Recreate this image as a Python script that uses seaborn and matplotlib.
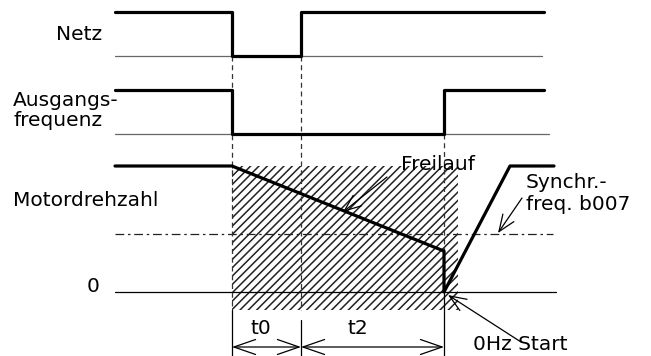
import matplotlib.pyplot as plt
import seaborn as sns
import numpy as np
import pandas as pd
from matplotlib.patches import Rectangle

# time axis (x, drawing units) of the events
t_start, t_fail, t_return, t_restart, t_sync, t_end = 115, 232, 301, 444, 510, 544

# Netz (mains) on/off
netz_t = [t_start, t_fail, t_fail, t_return, t_return, t_end]
netz_v = [1, 1, 0, 0, 1, 1]

# Ausgangsfrequenz (output frequency) on/off
ausg_t = [t_start, t_fail, t_fail, t_restart, t_restart, t_end]
ausg_v = [1, 1, 0, 0, 1, 1]

# Motordrehzahl (normalised speed): coast down, drop, ramp up again
motor_t = [t_start, t_fail, t_restart, t_restart, t_sync, 554]
motor_v = [1.0, 1.0, 0.325, 0.0, 1.0, 1.0]
sync_level = 0.46

# rows: baseline y and height of a "1" level
rows = {'netz': (56, 44), 'ausg': (134, 44), 'motor': (292, 126)}

sns.set_theme(style='white')
plt.rcParams['font.family'] = ['DejaVu Sans']
plt.rcParams['text.color'] = 'black'
plt.rcParams['hatch.linewidth'] = 1.1

fig = plt.figure(figsize=(6.51, 3.56), dpi=100)
ax = fig.add_axes([0, 0, 1, 1])
ax.set_xlim(0, 651)
ax.set_ylim(356, 0)
ax.axis('off')

def ypos(row, v):
    base, h = rows[row]
    return base - np.asarray(v, dtype=float) * h

# hatched coasting area
ax.add_patch(Rectangle((t_fail, 166), 458 - t_fail, 310 - 166, facecolor='white',
                       edgecolor='#222222', hatch='////', linewidth=0, zorder=1))

# thin baselines
ax.plot([115, 542], [56, 56], color='#666666', lw=0.9, zorder=2)
ax.plot([115, 549], [134, 134], color='#666666', lw=0.9, zorder=2)
ax.plot([115, 556], [292, 292], color='black', lw=0.9, zorder=2)
ax.plot([115, 553], [ypos('motor', sync_level)] * 2, color='#222222', lw=0.9,
        linestyle=(0, (7, 3, 2, 3)), zorder=2)

# signals
for row, tt, vv in [('netz', netz_t, netz_v), ('ausg', ausg_t, ausg_v), ('motor', motor_t, motor_v)]:
    df = pd.DataFrame({'t': tt, 'y': ypos(row, vv)})
    sns.lineplot(data=df, x='t', y='y', sort=False, estimator=None, color='black',
                 lw=2.3, ax=ax, zorder=4)

# dashed event markers
ax.plot([t_fail, t_fail], [56, 310], color='#333333', lw=0.9, ls=(0, (4, 3)), zorder=3)
ax.plot([t_return, t_return], [56, 310], color='#333333', lw=0.9, ls=(0, (4, 3)), zorder=3)
ax.plot([t_restart, t_restart], [134, 292], color='#333333', lw=0.9, ls=(0, (4, 3)), zorder=3)

# dimension extension lines
ax.plot([t_fail, t_fail], [310, 356], color='black', lw=0.9)
ax.plot([t_return, t_return], [320, 356], color='black', lw=0.9)
ax.plot([t_restart, t_restart], [292, 356], color='black', lw=0.9)

dim = dict(arrowstyle='<->,head_length=1.3,head_width=0.45', color='black', lw=0.9,
           shrinkA=0, shrinkB=0)
ax.annotate('', xy=(t_fail, 347), xytext=(t_return, 347), arrowprops=dim)
ax.annotate('', xy=(t_return, 347), xytext=(t_restart, 347), arrowprops=dim)

fs = 14.5
ax.text(261, 328, 't0', ha='center', va='center', fontsize=fs)
ax.text(358, 328, 't2', ha='center', va='center', fontsize=fs)

# labels
ax.text(102, 34, 'Netz', ha='right', va='center', fontsize=fs)
ax.text(13, 101, 'Ausgangs-', ha='left', va='center', fontsize=fs)
ax.text(13, 121, 'frequenz', ha='left', va='center', fontsize=fs)
ax.text(13, 200, 'Motordrehzahl', ha='left', va='center', fontsize=fs)
ax.text(99, 287, '0', ha='right', va='center', fontsize=fs)

arr = dict(arrowstyle='->,head_length=1.0,head_width=0.4', color='black', lw=0.9,
           shrinkA=0, shrinkB=0)
ax.text(438, 165, 'Freilauf', ha='center', va='center', fontsize=fs, zorder=5)
ax.annotate('', xy=(343, 212), xytext=(387, 177), arrowprops=arr, zorder=5)

ax.text(526, 183, 'Synchr.-', ha='left', va='center', fontsize=fs)
ax.text(526, 205, 'freq. b007', ha='left', va='center', fontsize=fs)
ax.annotate('', xy=(498, 233), xytext=(522, 198), arrowprops=arr)

ax.text(473, 345, '0Hz Start', ha='left', va='center', fontsize=fs)
ax.annotate('', xy=(448, 295), xytext=(521, 342), arrowprops=arr)

fig.savefig('out.png', dpi=100)
